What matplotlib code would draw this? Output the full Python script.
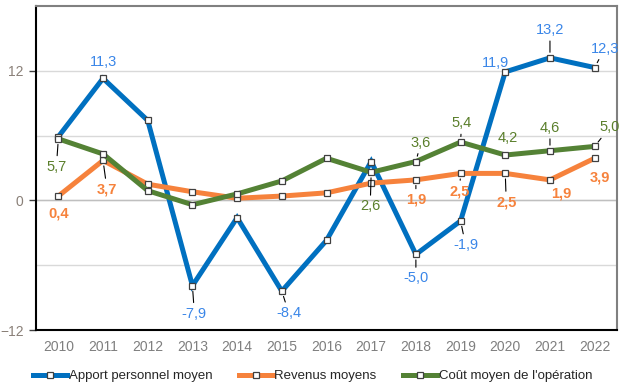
import matplotlib
matplotlib.use("Agg")
import matplotlib.pyplot as plt
from matplotlib.lines import Line2D

plt.rcParams['font.family'] = ['Liberation Sans', 'DejaVu Sans']

years = ['2010', '2011', '2012', '2013', '2014', '2015', '2016',
         '2017', '2018', '2019', '2020', '2021', '2022']
apport = [5.9, 11.3, 7.4, -7.9, -1.6, -8.4, -3.7, 3.6, -5.0, -1.9, 11.9, 13.2, 12.3]
revenus = [0.4, 3.7, 1.5, 0.8, 0.2, 0.4, 0.7, 1.6, 1.9, 2.5, 2.5, 1.9, 3.9]
cout = [5.7, 4.3, 0.9, -0.4, 0.6, 1.8, 3.9, 2.6, 3.6, 5.4, 4.2, 4.6, 5.0]
series_names = ['Apport personnel moyen', 'Revenus moyens', "Coût moyen de l'opération"]

line_colors = ['#0070C0', '#F6823C', '#548235']
label_colors = ['#3A86E8', '#F6823C', '#5A7F2B']
label_weights = ['medium', 'bold', 'medium']

# label placement: index -> (dx px, dy px, leader)
label_pos = [
    {1: (0, 16, False), 3: (2, -28, True), 5: (7, -22, True), 8: (0, -24, True),
     9: (5, -24, True), 10: (-10, 9, False), 11: (0, 28, True), 12: (10, 19, True)},
    {0: (0, -17, False), 1: (4, -29, True), 8: (0, -20, True), 9: (-1, -18, True),
     10: (1, -29, True), 11: (11, -14, False), 12: (5, -19, False)},
    {0: (-2, -28, True), 7: (-1, -34, True), 8: (5, 19, True), 9: (1, 19, True),
     10: (2, 17, False), 11: (0, 23, True), 12: (15, 19, True)},
]

fig = plt.figure(figsize=(6.25, 3.89), dpi=100)
ax = fig.add_axes([36/625, 1-330/389, (617-36)/625, (330-6)/389])

x = list(range(len(years)))
all_series = [apport, revenus, cout]
for i, vals in enumerate(all_series):
    ax.plot(x, vals, color=line_colors[i], lw=3.6, marker='s', ms=5,
            mfc='white', mec='#404040', mew=0.9, zorder=3 + i,
            solid_joinstyle='miter')

for i, vals in enumerate(all_series):
    for idx, (dx, dy, leader) in label_pos[i].items():
        txt = f"{vals[idx]:.1f}".replace('.', ',')
        kw = {}
        if leader:
            kw['arrowprops'] = dict(arrowstyle='-', color='black', lw=0.8,
                                    shrinkA=1, shrinkB=4)
        ax.annotate(txt, xy=(idx, vals[idx]), xytext=(dx, dy),
                    textcoords='offset pixels', ha='center', va='center',
                    fontsize=10.5, color=label_colors[i],
                    fontweight=label_weights[i], zorder=10, **kw)

ax.set_xlim(-0.5, len(years) - 0.5)
ax.set_ylim(-12, 18)
ax.set_xticks(x)
ax.set_xticklabels(years)
ax.set_yticks([-12, 0, 12])
ax.set_yticks([-6, 6], minor=True)
ax.tick_params(axis='x', length=0, labelsize=10, colors='#7f7f7f', pad=7)
ax.tick_params(axis='y', which='major', length=5, width=1, color='#404040',
               labelsize=10, labelcolor='#8a8078', pad=4)
ax.tick_params(axis='y', which='minor', length=0)
ax.grid(axis='y', which='both', color='#d9d9d9', lw=1)
ax.axhline(0, color='#bfbfbf', lw=1, zorder=1)
ax.set_axisbelow(True)

for s in ['left', 'bottom']:
    ax.spines[s].set_color('black')
    ax.spines[s].set_linewidth(1.5)
for s in ['top', 'right']:
    ax.spines[s].set_color('#808080')
    ax.spines[s].set_linewidth(1.5)

handles = [Line2D([0], [0], color=line_colors[i], lw=3.6, marker='s', ms=5,
                  mfc='white', mec='#404040', mew=0.9) for i in range(3)]
fig.legend(handles, series_names, loc='center', bbox_to_anchor=(0.5, 1-376/389),
           ncol=3, frameon=False, fontsize=9.5, handlelength=2.6,
           handletextpad=0.1, columnspacing=2.0, labelcolor='#262626')

fig.savefig('out.png', dpi=100)
